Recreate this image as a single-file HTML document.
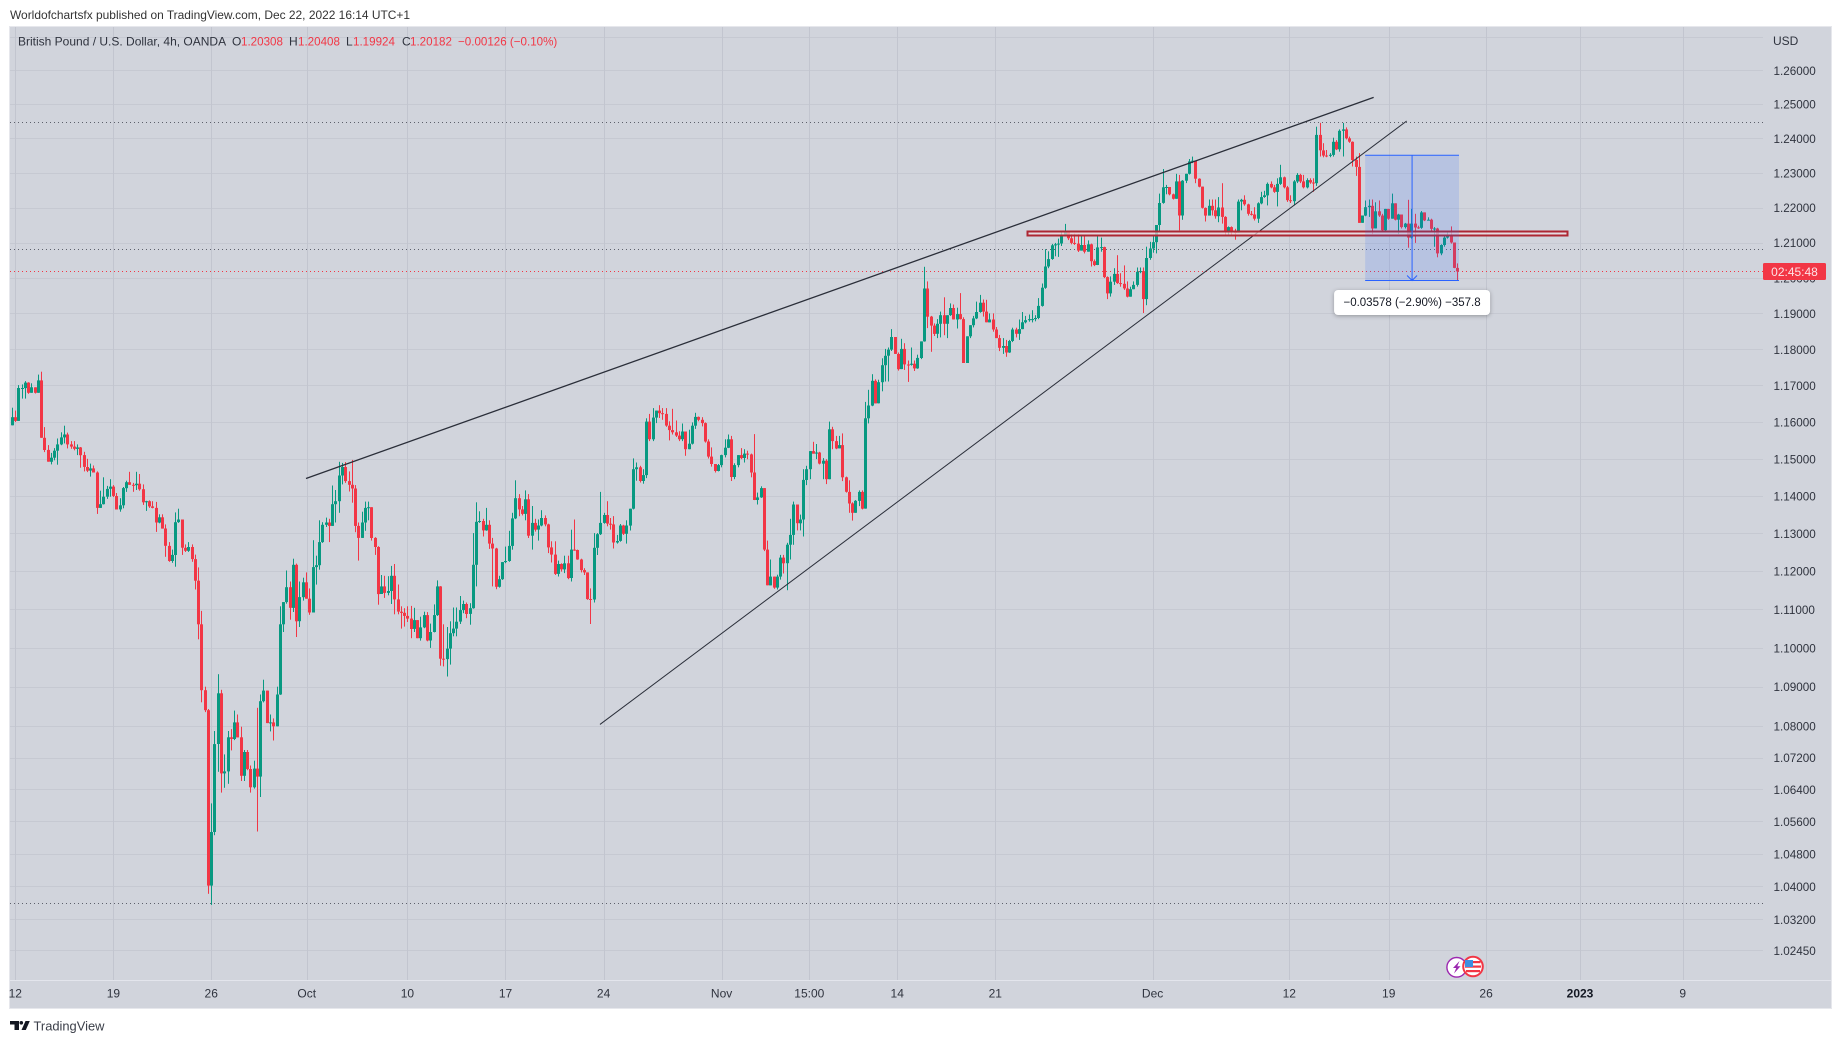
<!DOCTYPE html>
<html lang="en">
<head>
<meta charset="utf-8">
<title>GBP/USD 4h chart</title>
<style>
html,body{margin:0;padding:0;background:#fff;width:1841px;height:1043px;overflow:hidden}
svg{display:block;font-family:"Liberation Sans",sans-serif}
text{font-size:12px;fill:#2f333e}
</style>
</head>
<body>
<svg id="chart" width="1841" height="1043" viewBox="0 0 1841 1043">
  <text x="10" y="19" style="font-size:11.95px;fill:#333">Worldofchartsfx published on TradingView.com, Dec 22, 2022 16:14 UTC+1</text>
  <rect x="9.5" y="26.5" width="1822" height="982" fill="#d1d4dc" stroke="#e6e7ec"/>
  <g id="grid"></g>
  <g id="levels"></g>
  <g id="candles"></g>
  <g id="drawings"></g>
  <line x1="9.5" y1="980.5" x2="1831" y2="980.5" stroke="#e3e5ec"/>
  <g id="priceAxis"></g>
  <g id="timeAxis"></g>

  <g>
    <text x="18" y="45.5">British Pound / U.S. Dollar, 4h, OANDA</text>
    <text x="232" y="45.5">O</text>
    <text x="241" y="45.5" style="fill:#f23645;font-size:11.6px">1.20308</text>
    <text x="289" y="45.5">H</text>
    <text x="298" y="45.5" style="fill:#f23645;font-size:11.6px">1.20408</text>
    <text x="346" y="45.5">L</text>
    <text x="353" y="45.5" style="fill:#f23645;font-size:11.6px">1.19924</text>
    <text x="402" y="45.5">C</text>
    <text x="410" y="45.5" style="fill:#f23645;font-size:11.6px">1.20182</text>
    <text x="458" y="45.5" style="fill:#f23645;font-size:11.6px">−0.00126 (−0.10%)</text>
  </g>

  <g>
    <circle cx="1456.7" cy="967.3" r="9.8" fill="#fff" stroke="#9c27b0" stroke-width="1.4"/>
    <polygon points="1459.5,961 1453,968 1456.2,968 1454,973.5 1460.5,966.3 1457.3,966.3" fill="#9c27b0"/>
    <circle cx="1473" cy="966.5" r="9.8" fill="#fff" stroke="#f23645" stroke-width="2"/>
    <rect x="1465.5" y="961" width="15" height="2.2" fill="#f23645"/>
    <rect x="1465" y="965.5" width="16" height="2.2" fill="#f23645"/>
    <rect x="1466" y="970" width="14" height="2.2" fill="#f23645"/>
    <rect x="1465" y="960" width="8" height="7" fill="#3d8fe0"/>
  </g>

  <g>
    <polygon points="10,1021 19,1021 19,1030 14.5,1030 14.5,1024.5 10,1024.5" fill="#131722"/>
    <circle cx="21.3" cy="1022.8" r="1.8" fill="#131722"/>
    <polygon points="25.5,1021 29.8,1021 25.8,1030 21.5,1030" fill="#131722"/>
    <text x="33.5" y="1030.5" style="font-size:12.9px;fill:#3a3e48">TradingView</text>
  </g>
</svg>

<script>
// ---- Series values, one entry per 4h bar ----
const firstOpen = 1.1591;
const closes = [
1.1613,1.1603,1.1693,1.1693,1.1708,1.168,1.1695,1.168,1.1714,1.1557,
1.1524,1.1492,1.1503,1.1522,1.1539,1.1558,1.1566,1.1539,1.1533,1.1527,
1.1531,1.151,1.1478,1.1468,1.1474,1.1463,1.1368,1.1378,1.1398,1.1419,
1.1425,1.14,1.1364,1.1375,1.1421,1.1437,1.143,1.1429,1.1433,1.1418,
1.1383,1.1386,1.1372,1.1368,1.1329,1.1343,1.1313,1.1267,1.1227,1.1243,
1.133,1.1337,1.1262,1.1254,1.1264,1.1232,1.1175,1.1061,1.0891,1.084,
1.0402,1.0534,1.0754,1.0883,1.068,1.0685,1.0771,1.0767,1.0809,1.0771,
1.0674,1.0734,1.0691,1.0645,1.0692,1.0672,1.0863,1.089,1.0807,1.0809,
1.0799,1.088,1.1061,1.1119,1.1158,1.1104,1.1217,1.1069,1.1132,1.1171,
1.1128,1.1092,1.1211,1.1216,1.1277,1.1323,1.1329,1.132,1.1378,1.1386,
1.1455,1.1478,1.144,1.143,1.142,1.132,1.1288,1.1329,1.1368,1.137,
1.1288,1.1264,1.114,1.116,1.1143,1.1148,1.1188,1.1126,1.1094,1.1091,
1.1083,1.1076,1.1049,1.1072,1.1025,1.1053,1.1085,1.1019,1.1041,1.1085,
1.116,1.0972,1.0971,1.0998,1.1038,1.105,1.1068,1.1098,
1.1114,1.1088,1.1103,1.1217,1.1331,1.1333,1.1308,1.1323,1.1273,1.126,1.1159,1.1179,
1.1224,1.1227,1.1267,1.134,1.1394,1.1364,1.1352,1.1391,1.1294,1.1328,
1.131,1.1321,1.1341,1.1324,1.1263,1.1244,1.1193,1.1219,1.1205,1.1221,
1.1182,1.1257,1.1256,1.1231,1.1203,1.1197,1.1127,1.1126,1.1262,1.1298,
1.1328,1.1349,1.1326,1.1324,1.1276,1.128,1.1321,1.1299,1.1321,1.1366,
1.1472,1.1477,1.144,1.1456,1.1601,1.1553,1.1612,1.1631,1.1624,1.1622,
1.159,1.1578,1.1572,1.1563,1.1553,1.1574,1.1526,1.1541,1.159,1.1614,
1.1606,1.1597,1.1547,1.1506,1.1486,1.1467,1.1483,1.151,1.153,1.1553,
1.1451,1.1483,1.151,
1.1502,1.1514,1.1512,1.1463,1.1389,1.1396,1.1421,1.1257,
1.1163,1.1186,1.1157,1.1186,1.1236,1.1221,1.127,1.1296,1.1377,1.1327,
1.1337,1.1443,1.1472,1.1521,1.1514,1.1517,1.1487,1.1495,1.1445,1.158,
1.1548,1.1528,1.1537,1.145,1.1411,1.138,1.1355,1.1387,1.1411,1.1366,
1.161,1.1645,1.1713,1.1651,1.1709,1.1756,1.1782,1.1799,1.1834,1.1787,
1.1745,1.1801,1.1758,1.1757,1.176,1.1747,1.1776,1.1822,1.197,1.1891,
1.1866,1.1843,1.1871,1.1895,1.1871,1.1895,1.1915,1.1883,1.1898,1.1884,
1.1762,1.1836,1.1867,1.1886,1.1904,1.193,1.1905,1.1875,1.1883,1.1855,
1.1831,1.1804,1.1809,1.1791,1.1823,1.1855,1.1843,1.1856,1.1875,1.1881,
1.1884,1.1884,1.1887,1.1921,1.1972,
1.2032,1.2053,1.2092,1.2095,1.2097,1.2119,1.213,
1.2112,1.2099,1.2097,1.2077,1.2093,1.2074,1.2095,1.2047,1.2036,1.2086,
1.2087,1.2002,1.1956,1.1989,1.2011,1.1985,1.1983,1.197,1.1947,1.1968,
1.198,1.2017,1.2019,1.194,1.2056,1.2083,1.2101,1.215,1.2213,1.2258,
1.2259,1.2238,1.2225,1.2275,1.2177,1.2277,1.2297,1.2333,1.2335,1.2283,
1.226,1.2199,1.2177,1.2205,1.2192,1.2175,1.22,1.2173,1.213,1.2144,
1.213,1.2128,1.2217,1.2222,1.2209,1.2182,1.218,1.2168,1.2212,1.223,
1.2235,1.2268,1.2258,1.2245,1.2268,1.2287,1.2258,1.2221,1.2218,1.2275,
1.2294,1.2275,1.2258,1.2279,1.2272,1.227,1.241,1.2365,1.235,1.2349,
1.2352,1.239,1.2368,1.2422,1.2426,1.24,1.239,1.2337,1.2317,1.2156,
1.2177,1.2201,1.2205,1.214,1.2189,1.2177,1.2135,1.2196,1.2168,1.2212,
1.2165,1.218,1.2144,1.2154,1.2114,1.2154,1.2143,1.2142,1.2186,1.2163,
1.2165,1.2139,1.214,1.2069,1.2093,1.2114,1.2121,1.21,1.2028,1.20182
];
const highs = [
1.1639,1.1631,1.1701,1.1703,1.1712,1.1709,1.1706,1.1695,1.173,1.1738,
1.1586,1.1537,1.1516,1.1529,1.1555,1.1572,1.159,1.1571,1.1548,1.1548,
1.1539,1.1532,1.1519,1.15,1.1487,1.1482,1.1466,1.1414,1.145,1.1427,
1.1445,1.1429,1.1408,1.1394,1.1424,1.1441,1.1465,1.1435,1.1465,1.1459,
1.1431,1.1387,1.1388,1.1386,1.1384,1.1351,1.1351,1.1324,1.1277,1.1257,
1.1356,1.1366,1.1337,1.1271,1.1277,1.1271,1.1244,1.121,1.1096,1.09,
1.0843,1.0605,1.0787,1.0932,1.0892,1.0728,1.0787,1.0792,1.0839,1.0829,
1.0798,1.0739,1.0739,1.07,1.0712,1.0846,1.088,1.0918,1.089,1.0829,
1.0819,1.09,1.1108,1.1119,1.1202,1.1173,1.1233,1.122,1.1173,1.1183,
1.1197,1.1155,1.1282,1.1241,1.1335,1.133,1.1342,1.1339,1.1428,1.1416,
1.1492,1.1489,1.1491,1.1466,1.1497,1.1429,1.1329,1.1358,1.1385,1.1385,
1.137,1.129,1.1266,1.119,1.1188,1.1187,1.1214,1.1219,1.1165,1.1108,
1.1103,1.1108,1.1109,1.1104,1.1072,1.1081,1.1094,1.1093,1.1063,1.1113,
1.1176,1.1161,1.1061,1.1054,1.1069,1.1105,1.1105,1.1135,
1.1123,1.1118,1.1116,1.1301,1.1383,1.1359,1.1339,1.1368,1.1335,1.1288,1.1262,1.1188,
1.1224,1.1265,1.1307,1.1355,1.1442,1.1405,1.1373,1.1415,1.1405,1.1373,
1.1339,1.1337,1.1362,1.1348,1.1326,1.1279,1.1279,1.1228,1.1221,1.1241,
1.1241,1.131,1.1337,1.1257,1.1233,1.1208,1.1197,1.1155,1.1301,1.1301,
1.1411,1.1355,1.1386,1.1341,1.1346,1.1296,1.1325,1.1323,1.1335,1.1366,
1.1501,1.149,1.1481,1.1472,1.161,1.1622,1.1638,1.1631,1.1646,1.1638,
1.1638,1.1602,1.1636,1.1604,1.1575,1.1596,1.1574,1.1579,1.1599,1.1625,
1.1615,1.1613,1.1599,1.1553,1.1531,1.1486,1.1486,1.1511,1.1553,1.1566,
1.1562,1.1488,1.151,
1.1529,1.1526,1.1522,1.1514,1.1567,1.1409,1.1426,1.1421,
1.1281,1.1231,1.1186,1.1191,1.1243,1.1243,1.1275,1.1339,1.1385,1.1377,
1.135,1.1472,1.1481,1.1521,1.1546,1.154,1.1519,1.1502,1.1499,1.1601,
1.1587,1.1562,1.1562,1.1569,1.1452,1.1442,1.1383,1.1389,1.1415,1.1415,
1.1655,1.1688,1.1731,1.1717,1.1716,1.1775,1.1801,1.1805,1.1856,1.1834,
1.1791,1.1829,1.1817,1.1769,1.1805,1.1769,1.1785,1.1822,1.2031,1.199,
1.1893,1.1872,1.1884,1.1905,1.1945,1.1895,1.1928,1.1925,1.1916,1.1957,
1.1889,1.1836,1.1867,1.1893,1.1933,1.1952,1.1939,1.1938,1.19,1.19,
1.1862,1.184,1.1831,1.1826,1.1826,1.186,1.186,1.1883,1.1904,1.1893,
1.1897,1.1909,1.1895,1.1943,1.1984,
1.2081,1.2075,1.2096,1.2099,1.2111,1.2133,1.2153,
1.2129,1.2124,1.2125,1.2124,1.2121,1.2121,1.2106,1.2097,1.2052,1.2118,
1.2114,1.2088,1.2004,1.2004,1.2027,1.2064,1.2013,1.2035,1.199,1.1975,
1.199,1.2029,1.2029,1.2029,1.2088,1.2102,1.2118,1.215,1.224,1.2311,
1.2265,1.2258,1.224,1.2297,1.2294,1.2279,1.2297,1.234,1.2347,1.2335,
1.2284,1.22,1.22,1.2223,1.2223,1.2223,1.223,1.227,1.2175,1.2146,
1.2146,1.2139,1.2223,1.2225,1.2235,1.2211,1.219,1.2201,1.2215,1.2245,
1.2248,1.2272,1.2275,1.2265,1.2284,1.2323,1.2289,1.2262,1.2235,1.2279,
1.2299,1.2297,1.2294,1.2284,1.2284,1.2284,1.2434,1.2445,1.2386,1.2366,
1.2357,1.2402,1.2395,1.2426,1.2445,1.2432,1.2405,1.2391,1.2347,1.2357,
1.2177,1.222,1.2223,1.2223,1.2215,1.222,1.2182,1.2196,1.2196,1.224,
1.2212,1.2182,1.218,1.2156,1.2222,1.2196,1.2182,1.2148,1.219,1.2186,
1.2172,1.2168,1.2144,1.2142,1.2095,1.2118,1.2133,1.2146,1.21,1.20408
];
const lows = [
1.1591,1.16,1.1604,1.1664,1.1664,1.1677,1.168,1.1678,1.168,1.1557,
1.1518,1.1492,1.1485,1.1496,1.1484,1.1537,1.1542,1.1528,1.1527,1.1523,
1.151,1.1476,1.1466,1.1464,1.1452,1.1463,1.1352,1.1368,1.1377,1.1392,
1.1398,1.1397,1.1364,1.1358,1.1367,1.1411,1.143,1.1411,1.1416,1.1414,
1.1376,1.136,1.1368,1.1367,1.1304,1.1327,1.1313,1.1238,1.1225,1.1222,
1.1212,1.1328,1.1243,1.1251,1.1251,1.1225,1.1152,1.1022,1.086,1.0835,
1.0382,1.0355,1.0526,1.0684,1.0632,1.0644,1.0654,1.0738,1.0764,1.0771,
1.0661,1.0661,1.0688,1.0632,1.0642,1.0535,1.0621,1.086,1.0807,1.0786,
1.0763,1.0799,1.0879,1.1041,1.1115,1.1073,1.1093,1.1028,1.1054,1.1123,
1.1128,1.1086,1.1092,1.1165,1.1204,1.1275,1.1317,1.1277,1.132,1.1329,
1.1355,1.1431,1.1435,1.1412,1.1382,1.1303,1.1228,1.1288,1.1307,1.1335,
1.1281,1.1243,1.1112,1.114,1.113,1.1137,1.1114,1.1087,1.1087,1.105,
1.1055,1.1067,1.1025,1.1041,1.1025,1.1019,1.1051,1.1017,1.1,1.104,
1.1083,1.0954,1.0952,1.0926,1.0957,1.103,1.103,1.1062,
1.109,1.1077,1.106,1.1102,1.116,1.1328,1.1292,1.1307,1.1259,1.116,1.1153,1.1157,
1.1177,1.1221,1.1225,1.1257,1.1338,1.1346,1.1348,1.1335,1.1288,1.1257,
1.1305,1.1281,1.1319,1.1319,1.1248,1.1223,1.119,1.1186,1.1199,1.1195,
1.1179,1.1173,1.1254,1.123,1.1197,1.119,1.1125,1.1062,1.1118,1.1243,
1.1296,1.1326,1.1319,1.131,1.126,1.1273,1.1278,1.1296,1.1273,1.1308,
1.1364,1.1441,1.1436,1.1433,1.1448,1.1548,1.1548,1.1597,1.1611,1.1606,
1.1587,1.155,1.1566,1.1559,1.1548,1.1548,1.1508,1.1526,1.1539,1.1581,
1.1602,1.1588,1.1544,1.1501,1.1479,1.1463,1.1466,1.1477,1.1504,1.1529,
1.144,1.1445,1.1477,
1.1499,1.149,1.1499,1.145,1.1389,1.1377,1.1395,1.1253,
1.1163,1.1163,1.1154,1.1152,1.1178,1.1194,1.115,1.1231,1.127,1.1308,
1.1308,1.1292,1.1429,1.1445,1.1514,1.1499,1.1485,1.1445,1.1432,1.1445,
1.1526,1.1526,1.1529,1.144,1.1409,1.1355,1.1334,1.1355,1.1373,1.1364,
1.1366,1.1596,1.1643,1.1651,1.1651,1.1684,1.1711,1.1711,1.1795,1.1787,
1.1741,1.1745,1.1743,1.171,1.1755,1.174,1.1746,1.1773,1.1821,1.1859,
1.1793,1.1837,1.1831,1.1833,1.1839,1.1831,1.1893,1.1883,1.1858,1.1883,
1.1762,1.1762,1.1831,1.1861,1.1884,1.1902,1.1891,1.1875,1.1875,1.1849,
1.1831,1.1795,1.1787,1.1779,1.179,1.182,1.1833,1.1826,1.1856,1.1872,
1.1877,1.1875,1.1878,1.1884,1.1919,
1.1969,1.2027,1.2051,1.2061,1.2059,1.209,1.2117,
1.2107,1.2095,1.2093,1.2073,1.2077,1.2069,1.2074,1.2032,1.2033,1.2036,
1.2074,1.1999,1.194,1.1947,1.198,1.1983,1.1975,1.1966,1.1945,1.1947,
1.1975,1.1975,1.2013,1.1901,1.1923,1.2051,1.2071,1.2069,1.2134,1.2211,
1.2238,1.2235,1.2223,1.2225,1.2135,1.2165,1.227,1.2295,1.2328,1.227,
1.2258,1.2197,1.216,1.2182,1.2177,1.2168,1.2158,1.2154,1.212,1.212,
1.212,1.2108,1.2128,1.2192,1.2205,1.2177,1.2177,1.2163,1.2156,1.2209,
1.2228,1.2206,1.2255,1.2242,1.2203,1.2265,1.2255,1.2216,1.2213,1.2206,
1.227,1.227,1.2255,1.2255,1.2268,1.2245,1.2262,1.2347,1.2345,1.2345,
1.2345,1.2347,1.2366,1.2361,1.2347,1.2397,1.2387,1.2318,1.2291,1.2156,
1.2156,1.2175,1.2173,1.2124,1.214,1.2173,1.2133,1.2133,1.2165,1.2168,
1.2163,1.2124,1.214,1.214,1.2085,1.2111,1.2099,1.2139,1.2139,1.2161,
1.2163,1.2133,1.2088,1.2058,1.2064,1.2088,1.2111,1.2097,1.2027,1.19924
];

// ---- Tick labels ----
const priceTicks = [1.26,1.25,1.24,1.23,1.22,1.21,1.20,1.19,1.18,1.17,1.16,1.15,1.14,1.13,1.12,1.11,1.10,1.09,1.08,1.072,1.064,1.056,1.048,1.04,1.032,1.0245];
const unlabeledGridPrices = [1.27];
const timeLabels = ["12","19","26","Oct","10","17","24","Nov","15:00","14","21","Dec","12","19","26","2023","9"];
const timeTickBars = [1.1,31.1,61,90.2,121,151,181,217.1,243.9,270.8,300.8,348.9,390.7,421.1,450.9,479.6,511];

// ---- Drawing anchors in (bar, price) ----
const dottedLevels = [1.2447,1.20806,1.03591];
const lastPrice = 1.20182;
const upperTrendBars = [90,416.5];
const upperTrendPrices = [1.14469,1.252];
const lowerTrendBars = [179.9,426.6];
const lowerTrendPrices = [1.08037,1.24507];
const zoneBars = [310.5,475.6];
const zonePrices = [1.2134,1.2125];
const measureBars = [413.9,442.6];
const measurePrices = [1.2351,1.19924];

// ---- Axis functions ----
function xScale(bar){ return 11.7 + 3.27*bar; }
function yScale(price){ return 70.3 + 4253*Math.log(1.26/price); }

const NS = "http://www.w3.org/2000/svg";
function make(tag, parent, attrs, txt){
  const el = document.createElementNS(NS, tag);
  for(const k in attrs){ el.setAttribute(k, attrs[k]); }
  if(txt !== undefined){ el.textContent = txt; }
  parent.appendChild(el);
  return el;
}
const gridG = document.getElementById('grid');
const levelsG = document.getElementById('levels');
const candlesG = document.getElementById('candles');
const drawG = document.getElementById('drawings');
const priceG = document.getElementById('priceAxis');
const timeG = document.getElementById('timeAxis');
const PLOT_L = 10, PLOT_R = 1763, PLOT_T = 27, PLOT_B = 980;

// Grid
priceTicks.concat(unlabeledGridPrices).forEach(function(p){
  const y = Math.round(yScale(p)) + 0.5;
  const ln = make('line', gridG, {x1:PLOT_L, x2:PLOT_R, y1:y, y2:y, stroke:'#c6c9d2'});
  
  
});
timeTickBars.forEach(function(b){
  const x = Math.round(xScale(b)) + 0.5;
  const ln = make('line', gridG, {x1:x, x2:x, y1:PLOT_T, y2:PLOT_B, stroke:'#c2c5cf'});
  
  
});

// Dotted levels
dottedLevels.forEach(function(p){
  const y = Math.round(yScale(p)) + 0.5;
  const ln = make('line', levelsG, {x1:PLOT_L, x2:PLOT_R, y1:y, y2:y, stroke:'#5d606b', 'stroke-dasharray':'1 3'});
  
  
});
const lastY = Math.round(yScale(lastPrice)) + 0.5;
const lastLine = make('line', levelsG, {x1:PLOT_L, x2:PLOT_R, y1:lastY, y2:lastY, stroke:'#f23645', 'stroke-dasharray':'1 3'});



// Candles
closes.forEach(function(c, i){
  const o = i === 0 ? firstOpen : closes[i-1];
  const h = Math.max(highs[i], o, c);
  const l = Math.min(lows[i], o, c);
  const up = c >= o;
  const color = up ? '#089981' : '#f23645';
  const x = Math.round(xScale(i));
  const yh = yScale(h), yl = yScale(l);
  const wick = make('rect', candlesG, {x:x, y:yh.toFixed(1), width:1, height:Math.max(1,yl-yh).toFixed(1), fill:color});
  
  
  const yTop = yScale(Math.max(o,c)), yBot = yScale(Math.min(o,c));
  const body = make('rect', candlesG, {x:x-1, y:yTop.toFixed(1), width:3, height:Math.max(1,yBot-yTop).toFixed(1), fill:color});
  
  
});

// Trend lines
const upperLine = make('line', drawG, {x1:xScale(upperTrendBars[0]), y1:yScale(upperTrendPrices[0]), x2:xScale(upperTrendBars[1]), y2:yScale(upperTrendPrices[1]), stroke:'#2a2e39', 'stroke-width':1.3});


const lowerLine = make('line', drawG, {x1:xScale(lowerTrendBars[0]), y1:yScale(lowerTrendPrices[0]), x2:xScale(lowerTrendBars[1]), y2:yScale(lowerTrendPrices[1]), stroke:'#2a2e39', 'stroke-width':1});



// Resistance zone
const zx0 = xScale(zoneBars[0]), zx1 = xScale(zoneBars[1]);
const zy0 = Math.round(yScale(zonePrices[0])) + 0.5;
const zy1 = zy0 + 4;
const zone = make('rect', drawG, {x:Math.round(zx0)+0.5, y:zy0, width:Math.round(zx1-zx0), height:zy1-zy0, fill:'rgba(238,222,226,0.7)', stroke:'#ad2733', 'stroke-width':2});



// Measure tool
const mx0 = xScale(measureBars[0]), mx1 = xScale(measureBars[1]), mxc = (mx0+mx1)/2;
const my0 = yScale(measurePrices[0]), my1 = yScale(measurePrices[1]);
const mBox = make('rect', drawG, {x:mx0, y:my0, width:mx1-mx0, height:my1-my0, fill:'rgba(41,98,255,0.15)'});


const mTop = make('line', drawG, {x1:mx0, x2:mx1, y1:my0, y2:my0, stroke:'#2962ff', 'stroke-width':1});


const mBot = make('line', drawG, {x1:mx0, x2:mx1, y1:my1, y2:my1, stroke:'#2962ff', 'stroke-width':1});


const mArrow = make('line', drawG, {x1:mxc, x2:mxc, y1:my0, y2:my1, stroke:'#2962ff', 'stroke-width':1});


const mHead = make('polyline', drawG, {points:[mxc-5,my1-5,mxc,my1,mxc+5,my1-5].join(','), fill:'none', stroke:'#2962ff', 'stroke-width':1});



const lblBg = make('rect', drawG, {x:mxc-78, y:my1+9.5, width:156, height:25, rx:4, fill:'#fff', style:'filter:drop-shadow(0 1px 2px rgba(0,0,0,.3))'});


const lblTx = make('text', drawG, {x:mxc, y:my1+25.5, 'text-anchor':'middle', style:'fill:#131722;font-size:11.5px'}, '−0.03578 (−2.90%) −357.8');



// Price axis
const usd = make('text', priceG, {x:1773, y:45}, 'USD');


priceTicks.forEach(function(p){
  const t = make('text', priceG, {x:1773.5, y:(yScale(p)+4.5).toFixed(1), style:'font-size:11.7px'}, p.toFixed(5));
  
  
});
const clockBg = make('rect', priceG, {x:1763, y:lastY-8.5, width:63, height:17, rx:1.5, fill:'#f23645'});


const clockTx = make('text', priceG, {x:1794.5, y:lastY+4.3, 'text-anchor':'middle', style:'fill:#fde3e6;font-size:12px'}, '02:45:48');



// Time axis
timeLabels.forEach(function(lbl, i){
  const t = make('text', timeG, {x:xScale(timeTickBars[i]).toFixed(1), y:997.5, 'text-anchor':'middle'}, lbl);
  
  
  if(lbl === '2023'){ t.style.fontWeight = '600'; t.style.fill = '#131722'; }
});
</script>
</body>
</html>
